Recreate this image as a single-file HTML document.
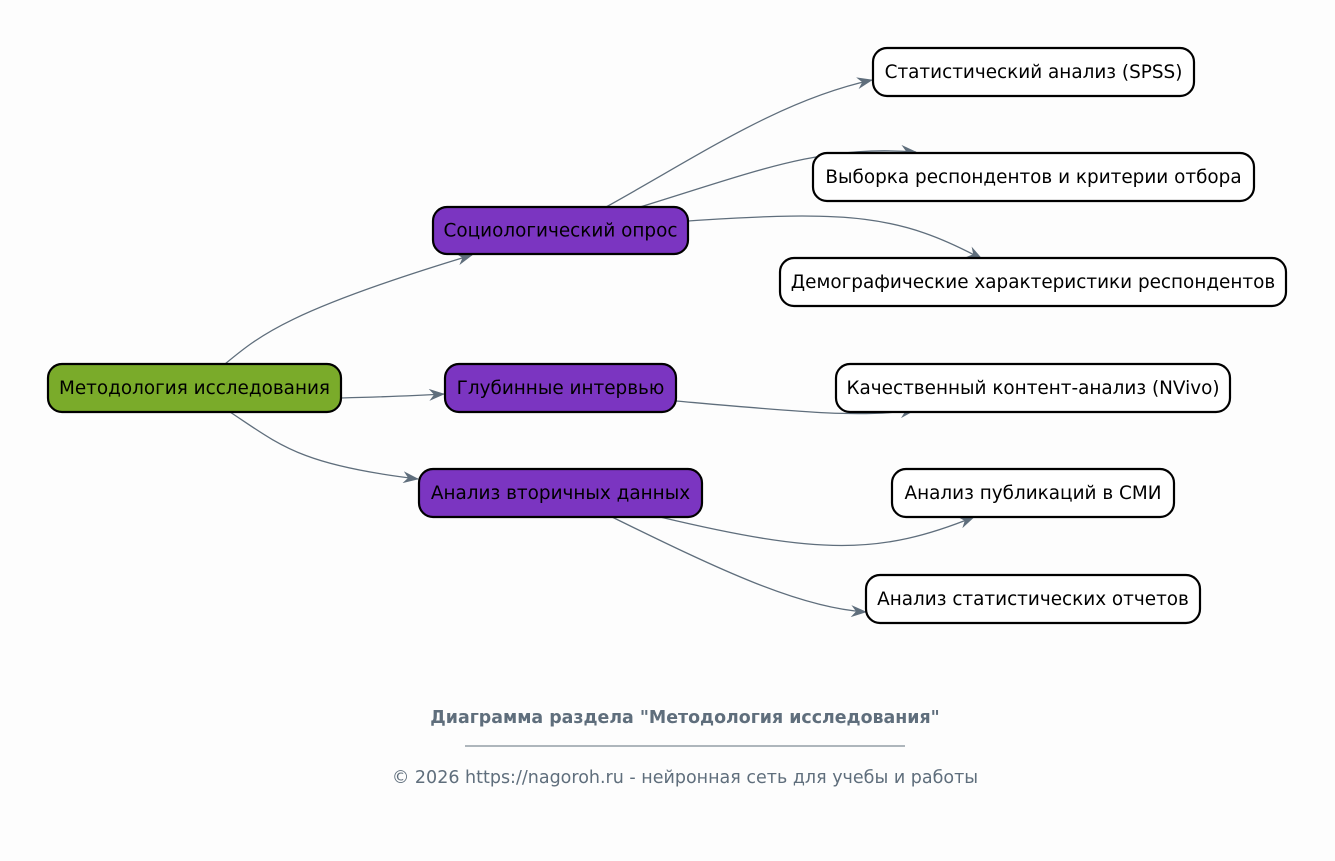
<!DOCTYPE html>
<html><head><meta charset="utf-8"><style>
html,body{margin:0;padding:0;background:#fdfdfd;}
svg{display:block}
text{font-family:"DejaVu Sans","Liberation Sans",sans-serif;}
</style></head><body>
<svg width="1335" height="861" viewBox="0 0 1335 861">
<defs>
<marker id="a" viewBox="0 0 16 12" refX="15" refY="6" markerWidth="16" markerHeight="12" markerUnits="userSpaceOnUse" orient="auto">
<path d="M0,0 L16,6 L0,12 L5,6 z" fill="#5f6e7c"/>
</marker>
</defs>
<rect width="1335" height="861" fill="#fdfdfd"/>
<g fill="none" stroke="#5f6e7c" stroke-width="1.3" marker-end="url(#a)">
<path d="M225,364 C260,335 290,310 472,255"/>
<path d="M341,398 C380,397 410,396 444,394"/>
<path d="M230,412 C280,445 300,465 418,479"/>
<path d="M606,207 C700,155 780,100 872,80"/>
<path d="M640,207 C760,170 820,145 916,152"/>
<path d="M688,221 C850,210 900,215 982,259"/>
<path d="M676,401 C800,412 860,418 915,410"/>
<path d="M660,517 C820,555 880,555 974,517"/>
<path d="M612,517 C720,570 800,608 866,612"/>
</g>
<g stroke="#000" stroke-width="2.2">
<rect x="48" y="364" width="293" height="48" rx="14" fill="#7aab2a"/>
<rect x="433" y="207" width="255" height="47" rx="14" fill="#7b35c1"/>
<rect x="445" y="364" width="231" height="48" rx="14" fill="#7b35c1"/>
<rect x="419" y="469" width="283" height="48" rx="14" fill="#7b35c1"/>
<rect x="873" y="48" width="321" height="48" rx="14" fill="#fff"/>
<rect x="813" y="153" width="441" height="48" rx="14" fill="#fff"/>
<rect x="780" y="258" width="506" height="48" rx="14" fill="#fff"/>
<rect x="836" y="364" width="394" height="48" rx="14" fill="#fff"/>
<rect x="892" y="469" width="282" height="48" rx="14" fill="#fff"/>
<rect x="866" y="575" width="334" height="48" rx="14" fill="#fff"/>
</g>
<g font-size="18.4" fill="#000" text-anchor="middle" dominant-baseline="central">
<text x="194.5" y="388.5">Методология исследования</text>
<text x="560.5" y="231">Социологический опрос</text>
<text x="560.5" y="388.5">Глубинные интервью</text>
<text x="560.5" y="493.5">Анализ вторичных данных</text>
<text x="1033.5" y="72.5">Статистический анализ (SPSS)</text>
<text x="1033.5" y="177.5">Выборка респондентов и критерии отбора</text>
<text x="1033" y="282.5">Демографические характеристики респондентов</text>
<text x="1033" y="388.5">Качественный контент-анализ (NVivo)</text>
<text x="1033" y="493.5">Анализ публикаций в СМИ</text>
<text x="1033" y="599.5">Анализ статистических отчетов</text>
</g>
<text x="685" y="723" font-size="17.4" font-weight="bold" fill="#5f6e7c" text-anchor="middle">Диаграмма раздела "Методология исследования"</text>
<line x1="465" y1="746" x2="905" y2="746" stroke="#5f6e7c" stroke-width="1"/>
<text x="685" y="783" font-size="17.5" fill="#5f6e7c" text-anchor="middle">© 2026 https://nagoroh.ru - нейронная сеть для учебы и работы</text>
</svg>
</body></html>
